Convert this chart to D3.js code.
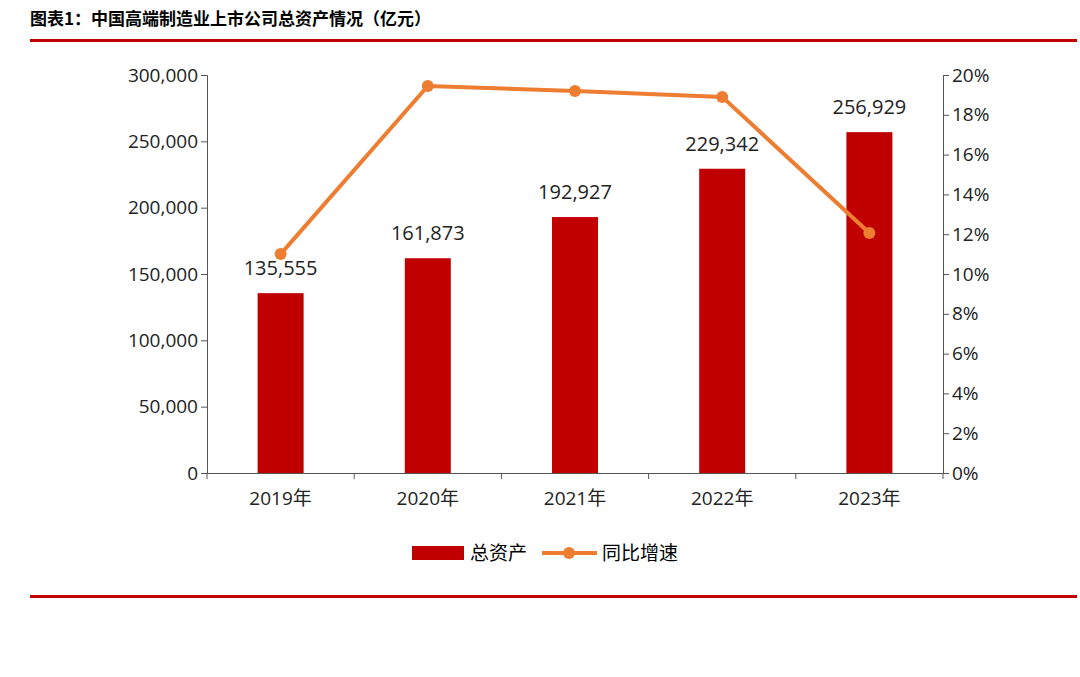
<!DOCTYPE html>
<html><head><meta charset="utf-8">
<script src="https://cdn.jsdelivr.net/npm/d3@7"></script>
<style>body{margin:0;background:#fff;font-family:"Open Sans","Noto Sans CJK SC",sans-serif}</style>
</head><body>
<svg id="chart" width="1080" height="677"></svg>
<script>
// Chart data
const years = ["2019年", "2020年", "2021年", "2022年", "2023年"];
const totalAssets = [135555, 161873, 192927, 229342, 256929];
const growth = [11.0, 19.45, 19.2, 18.9, 12.06];
const leftTicks = [0, 50000, 100000, 150000, 200000, 250000, 300000];
const rightTicks = [0, 2, 4, 6, 8, 10, 12, 14, 16, 18, 20];

const svg = d3.select("#chart");
const red = "#c00000", orange = "#ed7d31";
const plotLeft = 207, plotRight = 943, plotTop = 75, plotBottom = 473;

// Title and frame lines
svg.append("text").attr("x", 30).attr("y", 25)
    .style("font-family", "Noto Sans CJK SC").style("font-weight", "bold").style("font-size", "17px")
    .text("图表1：中国高端制造业上市公司总资产情况（亿元）");
svg.append("rect").attr("x", 30).attr("y", 39).attr("width", 1047).attr("height", 3).attr("fill", red);
svg.append("rect").attr("x", 30).attr("y", 595).attr("width", 1047).attr("height", 3).attr("fill", red);

const x = d3.scaleBand().domain(years).range([plotLeft, plotRight]);
const y = d3.scaleLinear().domain([0, 300000]).range([plotBottom, plotTop]);
const y2 = d3.scaleLinear().domain([0, 20]).range([plotBottom, plotTop]);

const fmt = d3.format(",");
const axL = svg.append("g").attr("transform", `translate(${plotLeft},0)`)
    .call(d3.axisLeft(y).tickValues(leftTicks).tickFormat(fmt).tickSize(6));
const axR = svg.append("g").attr("transform", `translate(${plotRight},0)`)
    .call(d3.axisRight(y2).tickValues(rightTicks).tickFormat(d => d + "%").tickSize(6));
const axB = svg.append("g").attr("transform", `translate(0,${plotBottom})`)
    .call(d3.axisBottom(x).tickSize(6).tickSizeOuter(0));
axB.selectAll(".tick line").attr("transform", `translate(${x.bandwidth() / 2},0)`);
axB.append("line").attr("x1", plotLeft).attr("x2", plotLeft).attr("y1", 0).attr("y2", 6).attr("stroke", "#000");
[axL, axR, axB].forEach(a => {
    a.selectAll("text").style("font-size", "19px").style("font-family", "Open Sans,Noto Sans CJK SC").attr("fill", "#222");
    a.selectAll("path,line").attr("stroke", "#555");
});
axB.selectAll("text").attr("dy", "1.2em");

// Bars
const bw = 46;
svg.selectAll("rect.bar").data(totalAssets).enter().append("rect")
    .attr("x", (d, i) => x(years[i]) + x.bandwidth() / 2 - bw / 2)
    .attr("y", d => y(d)).attr("width", bw).attr("height", d => plotBottom - y(d)).attr("fill", red);
svg.selectAll("text.lbl").data(totalAssets).enter().append("text")
    .attr("x", (d, i) => x(years[i]) + x.bandwidth() / 2).attr("y", d => y(d) - 18)
    .attr("text-anchor", "middle").style("font-size", "20px").attr("fill", "#222").text(fmt);

// Growth line
const cx = (d, i) => x(years[i]) + x.bandwidth() / 2;
svg.append("path").datum(growth)
    .attr("d", d3.line().x(cx).y(d => y2(d)))
    .attr("fill", "none").attr("stroke", orange).attr("stroke-width", 4);
svg.selectAll("circle.pt").data(growth).enter().append("circle")
    .attr("cx", cx).attr("cy", d => y2(d)).attr("r", 6).attr("fill", orange);

// Legend
const lg = svg.append("g").attr("transform", "translate(412,553)");
lg.append("rect").attr("x", 0).attr("y", -7).attr("width", 52).attr("height", 14).attr("fill", red);
lg.append("text").attr("x", 58).attr("y", 7).style("font-size", "19px").text("总资产");
lg.append("line").attr("x1", 130).attr("x2", 185).attr("stroke", orange).attr("stroke-width", 4);
lg.append("circle").attr("cx", 157).attr("r", 6).attr("fill", orange);
lg.append("text").attr("x", 190).attr("y", 7).style("font-size", "19px").text("同比增速");
</script>
</body></html>
